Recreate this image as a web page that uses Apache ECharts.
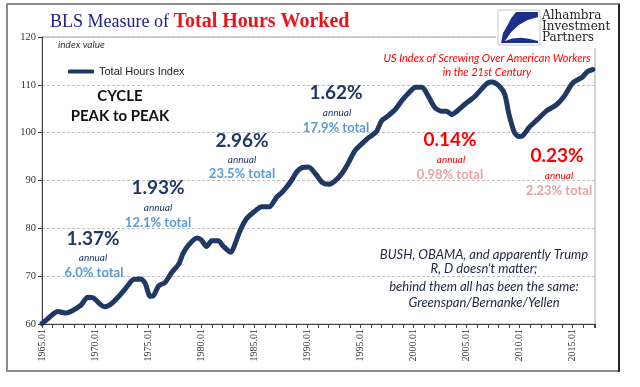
<!DOCTYPE html>
<html>
<head>
<meta charset="utf-8">
<script src="https://cdn.jsdelivr.net/npm/echarts@6/dist/echarts.min.js"></script>
<style>
html,body{margin:0;padding:0;background:#fff;}
#chart{width:640px;height:387px;}
</style>
</head>
<body>
<div id="chart"></div>
<script>
// Decimal year (1965.0 = 1965.01) of each point
var years = [1965.0,1965.5,1966.0,1966.5,1967.2,1967.7,1968.1,1968.7,1969.3,1969.8,
  1970.5,1970.9,1971.5,1972.2,1972.9,1973.6,1974.3,1974.7,1975.2,1975.5,
  1976.0,1976.6,1977.2,1977.9,1978.3,1978.8,1979.6,1980.0,1980.5,1981.0,
  1981.6,1982.1,1982.8,1983.2,1983.6,1984.2,1984.9,1985.7,1986.4,1987.1,
  1987.6,1988.0,1988.5,1989.0,1989.5,1990.1,1990.8,1991.4,1992.0,1992.6,
  1993.2,1993.8,1994.5,1995.2,1995.8,1996.5,1997.0,1997.6,1998.3,1998.9,
  1999.5,2000.2,2000.8,2001.3,2002.0,2002.6,2003.1,2003.6,2004.0,2004.5,
  2005.1,2005.7,2006.4,2007.0,2007.4,2008.1,2008.6,2009.0,2009.5,2009.9,
  2010.3,2010.9,2011.7,2012.5,2013.5,2014.2,2015.0,2015.9,2016.4,2016.9];
// Total Hours Index values
var hoursIndex = [60.1,61.0,62.0,62.6,62.3,62.6,63.1,64.0,65.6,65.5,
  64.1,63.6,64.2,65.7,67.5,69.3,69.4,68.6,65.8,65.9,
  68.0,68.7,70.7,72.6,74.8,76.5,78.0,77.6,76.2,77.4,
  77.4,76.2,75.0,76.8,79.2,81.8,83.3,84.5,84.5,86.5,
  87.5,88.5,90.0,91.8,92.7,92.8,91.3,89.6,89.2,89.9,
  91.3,93.4,96.3,97.8,99.0,100.2,102.5,103.5,104.9,106.7,
  108.2,109.5,109.5,108.0,105.3,104.5,104.5,103.8,104.3,105.3,
  106.4,107.4,109.1,110.4,110.6,109.7,108.0,103.8,100.1,99.2,
  99.4,101.1,102.8,104.5,105.9,107.6,110.4,111.6,112.8,113.2];
var xLabelYears = [1965,1970,1975,1980,1985,1990,1995,2000,2005,2010,2015];
var yTicks = [60,70,80,90,100,110,120];

var seriesData = years.map(function(y,i){return [y, hoursIndex[i]];});

var NAVY = '#1f3864', LBLUE = '#5b9bd5', RED = '#ff0000', PINK = '#e8a3a3';
var SANS = 'Lato, "Open Sans", sans-serif';

function txt(x, y, s, font, fill, align){
  return {type:'text', x:x, y:y, z:100,
    style:{text:s, font:font, fill:fill,
      align:align||'center', verticalAlign:'middle',
      textAlign:align||'center', textVerticalAlign:'middle'}};
}

var graphics = [
  // outer frame
  {type:'rect', shape:{x:7,y:4,width:612,height:367}, style:{fill:'none', stroke:'#8c8c8c', lineWidth:2}, z:50},
  {type:'line', shape:{x1:619,y1:4,x2:619,y2:372}, style:{stroke:'#222', lineWidth:2}, z:51},
  // logo backdrop
  {type:'rect', shape:{x:496,y:7,width:118,height:41}, style:{fill:'#fff'}, z:60},
  {type:'rect', shape:{x:498,y:10,width:42,height:35}, style:{fill:'#fff', stroke:'#c8c8c8', lineWidth:1}, z:61},
  {type:'polygon', shape:{points:[[516,12],[538,12],[538,17],[527.7,20],[518.8,25],[511.2,32],[505,41],
      [512,38.5],[520.8,37.8],[529,38.8],[538,41],[538,43],[501,43],[503,33],[507.3,25.8],[511,18.5]]},
    style:{fill:'#1c2f8a'}, z:62},
  txt(542,16,'Alhambra','12px "DejaVu Serif", serif','#222','left'),
  txt(542,27,'Investment','12px "DejaVu Serif", serif','#222','left'),
  txt(542,38,'Partners','12px "DejaVu Serif", serif','#222','left'),
  // title
  {type:'text', x:50, y:22, z:100, style:{
    text:'{a|BLS Measure of }{b|Total Hours Worked}',
    verticalAlign:'middle', textVerticalAlign:'middle',
    rich:{a:{fontSize:18, fontFamily:'Liberation Serif', color:'#1f2288', fill:'#1f2288'},
          b:{fontSize:20, fontWeight:'bold', fontFamily:'Liberation Serif', color:'#e8141b', fill:'#e8141b'}}
  }},
  txt(58,45,'index value','italic 10px '+SANS,'#333','left'),
  // cycle headings
  txt(120,96,'CYCLE','bold 15px '+SANS,'#111'),
  txt(120,116,'PEAK to PEAK','bold 15px '+SANS,'#111'),
  // 1.37
  txt(93,239,'1.37%','bold 19px '+SANS,NAVY),
  txt(93,258,'annual','italic 10px '+SANS,NAVY),
  txt(94,273,'6.0% total','bold 13px '+SANS,LBLUE),
  // 1.93
  txt(158,188,'1.93%','bold 19px '+SANS,NAVY),
  txt(158,208,'annual','italic 10px '+SANS,NAVY),
  txt(158,223,'12.1% total','bold 13px '+SANS,LBLUE),
  // 2.96
  txt(242,141,'2.96%','bold 19px '+SANS,NAVY),
  txt(242,160,'annual','italic 10px '+SANS,NAVY),
  txt(242,174,'23.5% total','bold 13px '+SANS,LBLUE),
  // 1.62
  txt(336,93,'1.62%','bold 19px '+SANS,NAVY),
  txt(337,113,'annual','italic 10px '+SANS,NAVY),
  txt(336,128,'17.9% total','bold 13px '+SANS,LBLUE),
  // 0.14
  txt(450,140,'0.14%','bold 19px '+SANS,RED),
  txt(451,160,'annual','italic 10px '+SANS,RED),
  txt(450,175,'0.98% total','bold 13px '+SANS,PINK),
  // 0.23
  txt(557,156,'0.23%','bold 19px '+SANS,RED),
  txt(559,176,'annual','italic 10px '+SANS,RED),
  txt(559,191,'2.23% total','bold 13px '+SANS,PINK),
  // red heading
  txt(487,58,'US Index of Screwing Over American Workers','italic 11px '+SANS,RED),
  txt(487,72,'in the 21st Century','italic 11px '+SANS,RED),
  // bottom notes
  txt(484,255,'BUSH, OBAMA, and apparently Trump','italic 13px '+SANS,'#1c2541'),
  txt(484,269,"R, D doesn't matter;",'italic 13px '+SANS,'#1c2541'),
  txt(484,287,'behind them all has been the same:','italic 13px '+SANS,'#1c2541'),
  txt(484,303,'Greenspan/Bernanke/Yellen','italic 13px '+SANS,'#1c2541')
];

var chart = echarts.init(document.getElementById('chart'), null, {renderer:'canvas'});
chart.setOption({
  backgroundColor:'#fff',
  animation:false,
  grid:{left:42, right:45, top:37, bottom:63, show:true, borderColor:'#a6a6a6', borderWidth:1, containLabel:false},
  legend:{show:true, left:63, top:61, itemWidth:26, itemHeight:4, itemGap:0, icon:'roundRect',
    textStyle:{fontFamily:'"Liberation Sans", Arial, sans-serif', fontSize:11, color:'#222'},
    data:['Total Hours Index']},
  xAxis:{type:'value', min:1965, max:2017.1, interval:1,
    axisLine:{show:true, lineStyle:{color:'#404040', width:1}},
    axisTick:{show:true, inside:false, length:4, lineStyle:{color:'#404040'}},
    splitLine:{show:false},
    axisLabel:{rotate:90, margin:5, fontFamily:'"Liberation Serif", serif', fontSize:10, color:'#333',
      formatter:function(v){ return xLabelYears.indexOf(v) >= 0 ? v + '.01' : ''; }}},
  yAxis:{type:'value', min:yTicks[0], max:yTicks[yTicks.length-1], interval:10,
    axisLine:{show:true, lineStyle:{color:'#404040', width:1}},
    axisTick:{show:true, length:4, lineStyle:{color:'#404040'}},
    splitLine:{show:true, lineStyle:{color:'#c0c0c0', type:[3,2], width:1}},
    axisLabel:{margin:6, fontFamily:'"Liberation Serif", serif', fontSize:10.5, color:'#333'}},
  series:[{name:'Total Hours Index', type:'line', data:seriesData, showSymbol:false, symbol:'none',
    smooth:0.25, lineStyle:{color:NAVY, width:5, cap:'round', join:'round'}, itemStyle:{color:NAVY}, z:5}],
  graphic:graphics
});
</script>
</body>
</html>
